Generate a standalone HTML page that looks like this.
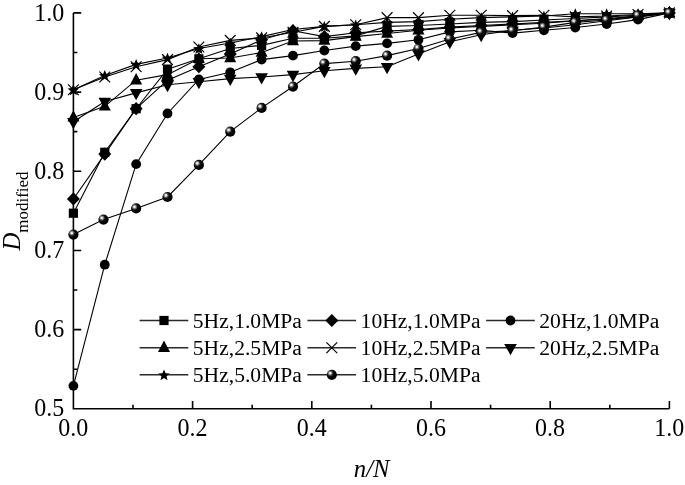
<!DOCTYPE html>
<html><head><meta charset="utf-8"><style>
html,body{margin:0;padding:0;background:#fff;}
body{width:685px;height:485px;overflow:hidden;}
svg{display:block;filter:grayscale(1);font-family:"Liberation Serif",serif;fill:#000;}
</style></head><body>
<svg width="685" height="485" viewBox="0 0 685 485"><defs><radialGradient id="sph" cx="0.34" cy="0.34" r="0.55" fx="0.34" fy="0.34"><stop offset="0" stop-color="#fff"/><stop offset="0.12" stop-color="#f2f2f2"/><stop offset="0.32" stop-color="#777"/><stop offset="0.55" stop-color="#111"/><stop offset="1" stop-color="#000"/></radialGradient></defs><path d="M73.4 12.9V408.8H669.4" fill="none" stroke="#000" stroke-width="1.6"/><path d="M73.4 369.21h4M73.4 329.62h7.8M73.4 290.03h4M73.4 250.44h7.8M73.4 210.85h4M73.4 171.26h7.8M73.4 131.67h4M73.4 92.08h7.8M73.4 52.49h4M73.4 12.90h7.8M133.00 408.8v-4M192.60 408.8v-7.8M252.20 408.8v-4M311.80 408.8v-7.8M371.40 408.8v-4M431.00 408.8v-7.8M490.60 408.8v-4M550.20 408.8v-7.8M609.80 408.8v-4M669.40 408.8v-7.8" fill="none" stroke="#000" stroke-width="1.6"/><polyline points="73.40,213.23 104.77,152.26 136.14,108.71 167.51,69.12 198.87,58.82 230.24,48.53 261.61,45.36 292.98,38.24 324.35,38.24 355.72,35.86 387.08,26.36 418.45,25.57 449.82,23.99 481.19,22.40 512.56,21.61 543.93,20.03 575.29,18.44 606.66,16.86 638.03,15.28 669.40,12.90" fill="none" stroke="#000" stroke-width="1.1"/><g><rect x="68.80" y="208.63" width="9.2" height="9.2"/><rect x="100.17" y="147.66" width="9.2" height="9.2"/><rect x="131.54" y="104.11" width="9.2" height="9.2"/><rect x="162.91" y="64.52" width="9.2" height="9.2"/><rect x="194.27" y="54.22" width="9.2" height="9.2"/><rect x="225.64" y="43.93" width="9.2" height="9.2"/><rect x="257.01" y="40.76" width="9.2" height="9.2"/><rect x="288.38" y="33.64" width="9.2" height="9.2"/><rect x="319.75" y="33.64" width="9.2" height="9.2"/><rect x="351.12" y="31.26" width="9.2" height="9.2"/><rect x="382.48" y="21.76" width="9.2" height="9.2"/><rect x="413.85" y="20.97" width="9.2" height="9.2"/><rect x="445.22" y="19.39" width="9.2" height="9.2"/><rect x="476.59" y="17.80" width="9.2" height="9.2"/><rect x="507.96" y="17.01" width="9.2" height="9.2"/><rect x="539.33" y="15.43" width="9.2" height="9.2"/><rect x="570.69" y="13.84" width="9.2" height="9.2"/><rect x="602.06" y="12.26" width="9.2" height="9.2"/><rect x="633.43" y="10.68" width="9.2" height="9.2"/><rect x="664.80" y="8.30" width="9.2" height="9.2"/></g><polyline points="73.40,198.97 104.77,154.08 136.14,108.71 167.51,80.20 198.87,66.74 230.24,54.07 261.61,39.82 292.98,30.72 324.35,36.65 355.72,32.70 387.08,31.11 418.45,29.53 449.82,27.15 481.19,25.57 512.56,23.99 543.93,22.40 575.29,20.82 606.66,19.23 638.03,16.86 669.40,12.90" fill="none" stroke="#000" stroke-width="1.1"/><g><path d="M73.40 192.37L79.90 198.97L73.40 205.57L66.90 198.97Z"/><path d="M104.77 147.48L111.27 154.08L104.77 160.68L98.27 154.08Z"/><path d="M136.14 102.11L142.64 108.71L136.14 115.31L129.64 108.71Z"/><path d="M167.51 73.60L174.01 80.20L167.51 86.80L161.01 80.20Z"/><path d="M198.87 60.14L205.37 66.74L198.87 73.34L192.37 66.74Z"/><path d="M230.24 47.47L236.74 54.07L230.24 60.67L223.74 54.07Z"/><path d="M261.61 33.22L268.11 39.82L261.61 46.42L255.11 39.82Z"/><path d="M292.98 24.12L299.48 30.72L292.98 37.32L286.48 30.72Z"/><path d="M324.35 30.05L330.85 36.65L324.35 43.25L317.85 36.65Z"/><path d="M355.72 26.10L362.22 32.70L355.72 39.30L349.22 32.70Z"/><path d="M387.08 24.51L393.58 31.11L387.08 37.71L380.58 31.11Z"/><path d="M418.45 22.93L424.95 29.53L418.45 36.13L411.95 29.53Z"/><path d="M449.82 20.55L456.32 27.15L449.82 33.75L443.32 27.15Z"/><path d="M481.19 18.97L487.69 25.57L481.19 32.17L474.69 25.57Z"/><path d="M512.56 17.39L519.06 23.99L512.56 30.59L506.06 23.99Z"/><path d="M543.93 15.80L550.43 22.40L543.93 29.00L537.43 22.40Z"/><path d="M575.29 14.22L581.79 20.82L575.29 27.42L568.79 20.82Z"/><path d="M606.66 12.63L613.16 19.23L606.66 25.83L600.16 19.23Z"/><path d="M638.03 10.26L644.53 16.86L638.03 23.46L631.53 16.86Z"/><path d="M669.40 6.30L675.90 12.90L669.40 19.50L662.90 12.90Z"/></g><polyline points="73.40,385.84 104.77,264.69 136.14,164.13 167.51,113.46 198.87,79.41 230.24,72.28 261.61,59.62 292.98,55.66 324.35,50.51 355.72,46.16 387.08,43.38 418.45,39.82 449.82,31.90 481.19,30.32 512.56,33.09 543.93,30.32 575.29,27.55 606.66,23.99 638.03,19.63 669.40,12.90" fill="none" stroke="#000" stroke-width="1.1"/><g><circle cx="73.40" cy="385.84" r="4.9"/><circle cx="104.77" cy="264.69" r="4.9"/><circle cx="136.14" cy="164.13" r="4.9"/><circle cx="167.51" cy="113.46" r="4.9"/><circle cx="198.87" cy="79.41" r="4.9"/><circle cx="230.24" cy="72.28" r="4.9"/><circle cx="261.61" cy="59.62" r="4.9"/><circle cx="292.98" cy="55.66" r="4.9"/><circle cx="324.35" cy="50.51" r="4.9"/><circle cx="355.72" cy="46.16" r="4.9"/><circle cx="387.08" cy="43.38" r="4.9"/><circle cx="418.45" cy="39.82" r="4.9"/><circle cx="449.82" cy="31.90" r="4.9"/><circle cx="481.19" cy="30.32" r="4.9"/><circle cx="512.56" cy="33.09" r="4.9"/><circle cx="543.93" cy="30.32" r="4.9"/><circle cx="575.29" cy="27.55" r="4.9"/><circle cx="606.66" cy="23.99" r="4.9"/><circle cx="638.03" cy="19.63" r="4.9"/><circle cx="669.40" cy="12.90" r="4.9"/></g><polyline points="73.40,117.42 104.77,106.33 136.14,80.20 167.51,74.66 198.87,58.82 230.24,58.03 261.61,52.49 292.98,41.01 324.35,40.61 355.72,36.65 387.08,33.49 418.45,30.32 449.82,27.94 481.19,26.36 512.56,24.78 543.93,23.19 575.29,20.82 606.66,18.44 638.03,16.07 669.40,12.90" fill="none" stroke="#000" stroke-width="1.1"/><g><path d="M73.40 110.22L79.40 121.62L67.40 121.62Z"/><path d="M104.77 99.13L110.77 110.53L98.77 110.53Z"/><path d="M136.14 73.00L142.14 84.40L130.14 84.40Z"/><path d="M167.51 67.46L173.51 78.86L161.51 78.86Z"/><path d="M198.87 51.62L204.87 63.02L192.87 63.02Z"/><path d="M230.24 50.83L236.24 62.23L224.24 62.23Z"/><path d="M261.61 45.29L267.61 56.69L255.61 56.69Z"/><path d="M292.98 33.81L298.98 45.21L286.98 45.21Z"/><path d="M324.35 33.41L330.35 44.81L318.35 44.81Z"/><path d="M355.72 29.45L361.72 40.85L349.72 40.85Z"/><path d="M387.08 26.29L393.08 37.69L381.08 37.69Z"/><path d="M418.45 23.12L424.45 34.52L412.45 34.52Z"/><path d="M449.82 20.74L455.82 32.14L443.82 32.14Z"/><path d="M481.19 19.16L487.19 30.56L475.19 30.56Z"/><path d="M512.56 17.58L518.56 28.98L506.56 28.98Z"/><path d="M543.93 15.99L549.93 27.39L537.93 27.39Z"/><path d="M575.29 13.62L581.29 25.02L569.29 25.02Z"/><path d="M606.66 11.24L612.66 22.64L600.66 22.64Z"/><path d="M638.03 8.87L644.03 20.27L632.03 20.27Z"/><path d="M669.40 5.70L675.40 17.10L663.40 17.10Z"/></g><polyline points="73.40,89.70 104.77,77.04 136.14,66.74 167.51,59.62 198.87,46.95 230.24,40.38 261.61,37.92 292.98,32.22 324.35,26.36 355.72,24.78 387.08,17.65 418.45,17.65 449.82,15.28 481.19,15.28 512.56,15.67 543.93,15.28 575.29,16.86 606.66,16.07 638.03,14.48 669.40,12.90" fill="none" stroke="#000" stroke-width="1.1"/><g><path d="M68.00 84.30L78.80 95.10M78.80 84.30L68.00 95.10" fill="none" stroke="#000" stroke-width="1.2"/><path d="M99.37 71.64L110.17 82.44M110.17 71.64L99.37 82.44" fill="none" stroke="#000" stroke-width="1.2"/><path d="M130.74 61.34L141.54 72.14M141.54 61.34L130.74 72.14" fill="none" stroke="#000" stroke-width="1.2"/><path d="M162.11 54.22L172.91 65.02M172.91 54.22L162.11 65.02" fill="none" stroke="#000" stroke-width="1.2"/><path d="M193.47 41.55L204.27 52.35M204.27 41.55L193.47 52.35" fill="none" stroke="#000" stroke-width="1.2"/><path d="M224.84 34.98L235.64 45.78M235.64 34.98L224.84 45.78" fill="none" stroke="#000" stroke-width="1.2"/><path d="M256.21 32.52L267.01 43.32M267.01 32.52L256.21 43.32" fill="none" stroke="#000" stroke-width="1.2"/><path d="M287.58 26.82L298.38 37.62M298.38 26.82L287.58 37.62" fill="none" stroke="#000" stroke-width="1.2"/><path d="M318.95 20.96L329.75 31.76M329.75 20.96L318.95 31.76" fill="none" stroke="#000" stroke-width="1.2"/><path d="M350.32 19.38L361.12 30.18M361.12 19.38L350.32 30.18" fill="none" stroke="#000" stroke-width="1.2"/><path d="M381.68 12.25L392.48 23.05M392.48 12.25L381.68 23.05" fill="none" stroke="#000" stroke-width="1.2"/><path d="M413.05 12.25L423.85 23.05M423.85 12.25L413.05 23.05" fill="none" stroke="#000" stroke-width="1.2"/><path d="M444.42 9.88L455.22 20.68M455.22 9.88L444.42 20.68" fill="none" stroke="#000" stroke-width="1.2"/><path d="M475.79 9.88L486.59 20.68M486.59 9.88L475.79 20.68" fill="none" stroke="#000" stroke-width="1.2"/><path d="M507.16 10.27L517.96 21.07M517.96 10.27L507.16 21.07" fill="none" stroke="#000" stroke-width="1.2"/><path d="M538.53 9.88L549.33 20.68M549.33 9.88L538.53 20.68" fill="none" stroke="#000" stroke-width="1.2"/><path d="M569.89 11.46L580.69 22.26M580.69 11.46L569.89 22.26" fill="none" stroke="#000" stroke-width="1.2"/><path d="M601.26 10.67L612.06 21.47M612.06 10.67L601.26 21.47" fill="none" stroke="#000" stroke-width="1.2"/><path d="M632.63 9.08L643.43 19.88M643.43 9.08L632.63 19.88" fill="none" stroke="#000" stroke-width="1.2"/><path d="M664.00 7.50L674.80 18.30M674.80 7.50L664.00 18.30" fill="none" stroke="#000" stroke-width="1.2"/></g><polyline points="73.40,121.77 104.77,101.58 136.14,92.87 167.51,84.72 198.87,81.79 230.24,78.62 261.61,77.04 292.98,74.66 324.35,70.70 355.72,68.33 387.08,66.74 418.45,54.07 449.82,41.80 481.19,34.67 512.56,30.32 543.93,27.94 575.29,24.78 606.66,20.82 638.03,16.86 669.40,12.90" fill="none" stroke="#000" stroke-width="1.1"/><g><path d="M67.10 117.97L79.70 117.97L73.40 129.27Z"/><path d="M98.47 97.78L111.07 97.78L104.77 109.08Z"/><path d="M129.84 89.07L142.44 89.07L136.14 100.37Z"/><path d="M161.21 80.92L173.81 80.92L167.51 92.22Z"/><path d="M192.57 77.99L205.17 77.99L198.87 89.29Z"/><path d="M223.94 74.82L236.54 74.82L230.24 86.12Z"/><path d="M255.31 73.24L267.91 73.24L261.61 84.54Z"/><path d="M286.68 70.86L299.28 70.86L292.98 82.16Z"/><path d="M318.05 66.90L330.65 66.90L324.35 78.20Z"/><path d="M349.42 64.53L362.02 64.53L355.72 75.83Z"/><path d="M380.78 62.94L393.38 62.94L387.08 74.24Z"/><path d="M412.15 50.27L424.75 50.27L418.45 61.57Z"/><path d="M443.52 38.00L456.12 38.00L449.82 49.30Z"/><path d="M474.89 30.87L487.49 30.87L481.19 42.17Z"/><path d="M506.26 26.52L518.86 26.52L512.56 37.82Z"/><path d="M537.63 24.14L550.23 24.14L543.93 35.44Z"/><path d="M568.99 20.98L581.59 20.98L575.29 32.28Z"/><path d="M600.36 17.02L612.96 17.02L606.66 28.32Z"/><path d="M631.73 13.06L644.33 13.06L638.03 24.36Z"/><path d="M663.10 9.10L675.70 9.10L669.40 20.40Z"/></g><polyline points="73.40,89.70 104.77,75.45 136.14,64.37 167.51,58.03 198.87,48.53 230.24,42.99 261.61,36.65 292.98,29.53 324.35,26.36 355.72,24.78 387.08,22.40 418.45,21.61 449.82,19.23 481.19,17.65 512.56,16.86 543.93,16.07 575.29,13.69 606.66,13.69 638.03,13.69 669.40,12.90" fill="none" stroke="#000" stroke-width="1.1"/><g><path d="M73.40 84.30L74.99 88.12L79.11 88.45L75.97 91.14L76.93 95.16L73.40 93.00L69.87 95.16L70.83 91.14L67.69 88.45L71.81 88.12Z"/><path d="M104.77 70.05L106.36 73.87L110.47 74.20L107.34 76.89L108.30 80.91L104.77 78.75L101.24 80.91L102.20 76.89L99.06 74.20L103.18 73.87Z"/><path d="M136.14 58.97L137.72 62.78L141.84 63.11L138.70 65.80L139.66 69.82L136.14 67.67L132.61 69.82L133.57 65.80L130.43 63.11L134.55 62.78Z"/><path d="M167.51 52.63L169.09 56.45L173.21 56.78L170.07 59.47L171.03 63.49L167.51 61.33L163.98 63.49L164.94 59.47L161.80 56.78L165.92 56.45Z"/><path d="M198.87 43.13L200.46 46.95L204.58 47.28L201.44 49.97L202.40 53.99L198.87 51.83L195.35 53.99L196.31 49.97L193.17 47.28L197.29 46.95Z"/><path d="M230.24 37.59L231.83 41.40L235.95 41.73L232.81 44.42L233.77 48.44L230.24 46.29L226.72 48.44L227.67 44.42L224.54 41.73L228.66 41.40Z"/><path d="M261.61 31.25L263.20 35.07L267.32 35.40L264.18 38.09L265.14 42.11L261.61 39.95L258.08 42.11L259.04 38.09L255.90 35.40L260.02 35.07Z"/><path d="M292.98 24.13L294.57 27.94L298.69 28.27L295.55 30.96L296.51 34.98L292.98 32.83L289.45 34.98L290.41 30.96L287.27 28.27L291.39 27.94Z"/><path d="M324.35 20.96L325.93 24.78L330.05 25.11L326.92 27.79L327.87 31.81L324.35 29.66L320.82 31.81L321.78 27.79L318.64 25.11L322.76 24.78Z"/><path d="M355.72 19.38L357.30 23.19L361.42 23.52L358.28 26.21L359.24 30.23L355.72 28.08L352.19 30.23L353.15 26.21L350.01 23.52L354.13 23.19Z"/><path d="M387.08 17.00L388.67 20.82L392.79 21.15L389.65 23.84L390.61 27.86L387.08 25.70L383.56 27.86L384.52 23.84L381.38 21.15L385.50 20.82Z"/><path d="M418.45 16.21L420.04 20.03L424.16 20.36L421.02 23.04L421.98 27.06L418.45 24.91L414.93 27.06L415.88 23.04L412.75 20.36L416.87 20.03Z"/><path d="M449.82 13.83L451.41 17.65L455.53 17.98L452.39 20.67L453.35 24.69L449.82 22.53L446.29 24.69L447.25 20.67L444.11 17.98L448.23 17.65Z"/><path d="M481.19 12.25L482.78 16.07L486.90 16.40L483.76 19.09L484.72 23.10L481.19 20.95L477.66 23.10L478.62 19.09L475.48 16.40L479.60 16.07Z"/><path d="M512.56 11.46L514.14 15.27L518.26 15.60L515.13 18.29L516.08 22.31L512.56 20.16L509.03 22.31L509.99 18.29L506.85 15.60L510.97 15.27Z"/><path d="M543.93 10.67L545.51 14.48L549.63 14.81L546.49 17.50L547.45 21.52L543.93 19.37L540.40 21.52L541.36 17.50L538.22 14.81L542.34 14.48Z"/><path d="M575.29 8.29L576.88 12.11L581.00 12.44L577.86 15.13L578.82 19.15L575.29 16.99L571.77 19.15L572.73 15.13L569.59 12.44L573.71 12.11Z"/><path d="M606.66 8.29L608.25 12.11L612.37 12.44L609.23 15.13L610.19 19.15L606.66 16.99L603.14 19.15L604.10 15.13L600.96 12.44L605.08 12.11Z"/><path d="M638.03 8.29L639.62 12.11L643.74 12.44L640.60 15.13L641.56 19.15L638.03 16.99L634.50 19.15L635.46 15.13L632.33 12.44L636.44 12.11Z"/><path d="M669.40 7.50L670.99 11.32L675.11 11.65L671.97 14.33L672.93 18.35L669.40 16.20L665.87 18.35L666.83 14.33L663.69 11.65L667.81 11.32Z"/></g><polyline points="73.40,234.60 103.50,219.56 136.14,208.47 167.51,196.99 198.87,164.93 230.24,131.67 261.61,107.92 292.98,86.54 324.35,63.58 355.72,61.20 387.08,55.66 418.45,48.53 449.82,39.03 481.19,32.38 512.56,30.72 543.93,27.15 575.29,22.40 606.66,20.03 638.03,15.51 669.40,12.90" fill="none" stroke="#000" stroke-width="1.1"/><g><circle cx="73.40" cy="234.60" r="5.1" fill="url(#sph)"/><circle cx="103.50" cy="219.56" r="5.1" fill="url(#sph)"/><circle cx="136.14" cy="208.47" r="5.1" fill="url(#sph)"/><circle cx="167.51" cy="196.99" r="5.1" fill="url(#sph)"/><circle cx="198.87" cy="164.93" r="5.1" fill="url(#sph)"/><circle cx="230.24" cy="131.67" r="5.1" fill="url(#sph)"/><circle cx="261.61" cy="107.92" r="5.1" fill="url(#sph)"/><circle cx="292.98" cy="86.54" r="5.1" fill="url(#sph)"/><circle cx="324.35" cy="63.58" r="5.1" fill="url(#sph)"/><circle cx="355.72" cy="61.20" r="5.1" fill="url(#sph)"/><circle cx="387.08" cy="55.66" r="5.1" fill="url(#sph)"/><circle cx="418.45" cy="48.53" r="5.1" fill="url(#sph)"/><circle cx="449.82" cy="39.03" r="5.1" fill="url(#sph)"/><circle cx="481.19" cy="32.38" r="5.1" fill="url(#sph)"/><circle cx="512.56" cy="30.72" r="5.1" fill="url(#sph)"/><circle cx="543.93" cy="27.15" r="5.1" fill="url(#sph)"/><circle cx="575.29" cy="22.40" r="5.1" fill="url(#sph)"/><circle cx="606.66" cy="20.03" r="5.1" fill="url(#sph)"/><circle cx="638.03" cy="15.51" r="5.1" fill="url(#sph)"/><circle cx="669.40" cy="12.90" r="5.1" fill="url(#sph)"/></g><g font-size="24"><text transform="translate(64.3 416.40) scale(1 1.05)" text-anchor="end">0.5</text><text transform="translate(64.3 337.22) scale(1 1.05)" text-anchor="end">0.6</text><text transform="translate(64.3 258.04) scale(1 1.05)" text-anchor="end">0.7</text><text transform="translate(64.3 178.86) scale(1 1.05)" text-anchor="end">0.8</text><text transform="translate(64.3 99.68) scale(1 1.05)" text-anchor="end">0.9</text><text transform="translate(64.3 20.50) scale(1 1.05)" text-anchor="end">1.0</text><text transform="translate(73.30 436.0) scale(1 1.05)" text-anchor="middle">0.0</text><text transform="translate(192.50 436.0) scale(1 1.05)" text-anchor="middle">0.2</text><text transform="translate(311.70 436.0) scale(1 1.05)" text-anchor="middle">0.4</text><text transform="translate(430.90 436.0) scale(1 1.05)" text-anchor="middle">0.6</text><text transform="translate(550.10 436.0) scale(1 1.05)" text-anchor="middle">0.8</text><text transform="translate(669.30 436.0) scale(1 1.05)" text-anchor="middle">1.0</text></g><text x="353.8" y="476.8" font-size="24.7" font-style="italic">n/N</text><text transform="translate(20.1 250.6) rotate(-90)" font-size="24.7"><tspan font-style="italic">D</tspan><tspan font-size="17" dy="7.6">modified</tspan></text><g><path d="M139.6 320.5h48.7" stroke="#2a2a2a" stroke-width="1.4"/><rect x="159.40" y="315.90" width="9.2" height="9.2"/><text x="192.8" y="327.6" font-size="21.6">5Hz,1.0MPa</text><path d="M307.4 320.5h48.7" stroke="#2a2a2a" stroke-width="1.4"/><path d="M331.80 313.90L338.30 320.50L331.80 327.10L325.30 320.50Z"/><text x="360.6" y="327.6" font-size="21.6">10Hz,1.0MPa</text><path d="M486.1 320.5h48.7" stroke="#2a2a2a" stroke-width="1.4"/><circle cx="510.50" cy="320.50" r="4.9"/><text x="539.3" y="327.6" font-size="21.6">20Hz,1.0MPa</text><path d="M139.6 347.7h48.7" stroke="#2a2a2a" stroke-width="1.4"/><path d="M164.00 340.50L170.00 351.90L158.00 351.90Z"/><text x="192.8" y="354.8" font-size="21.6">5Hz,2.5MPa</text><path d="M307.4 347.7h48.7" stroke="#2a2a2a" stroke-width="1.4"/><path d="M326.40 342.30L337.20 353.10M337.20 342.30L326.40 353.10" fill="none" stroke="#000" stroke-width="1.2"/><text x="360.6" y="354.8" font-size="21.6">10Hz,2.5MPa</text><path d="M486.1 347.7h48.7" stroke="#2a2a2a" stroke-width="1.4"/><path d="M504.20 343.90L516.80 343.90L510.50 355.20Z"/><text x="539.3" y="354.8" font-size="21.6">20Hz,2.5MPa</text><path d="M139.6 374.8h48.7" stroke="#2a2a2a" stroke-width="1.4"/><path d="M164.00 369.40L165.59 373.22L169.71 373.55L166.57 376.23L167.53 380.25L164.00 378.10L160.47 380.25L161.43 376.23L158.29 373.55L162.41 373.22Z"/><text x="192.8" y="381.9" font-size="21.6">5Hz,5.0MPa</text><path d="M307.4 374.8h48.7" stroke="#2a2a2a" stroke-width="1.4"/><circle cx="331.80" cy="374.80" r="5.1" fill="url(#sph)"/><text x="360.6" y="381.9" font-size="21.6">10Hz,5.0MPa</text></g></svg>
</body></html>
